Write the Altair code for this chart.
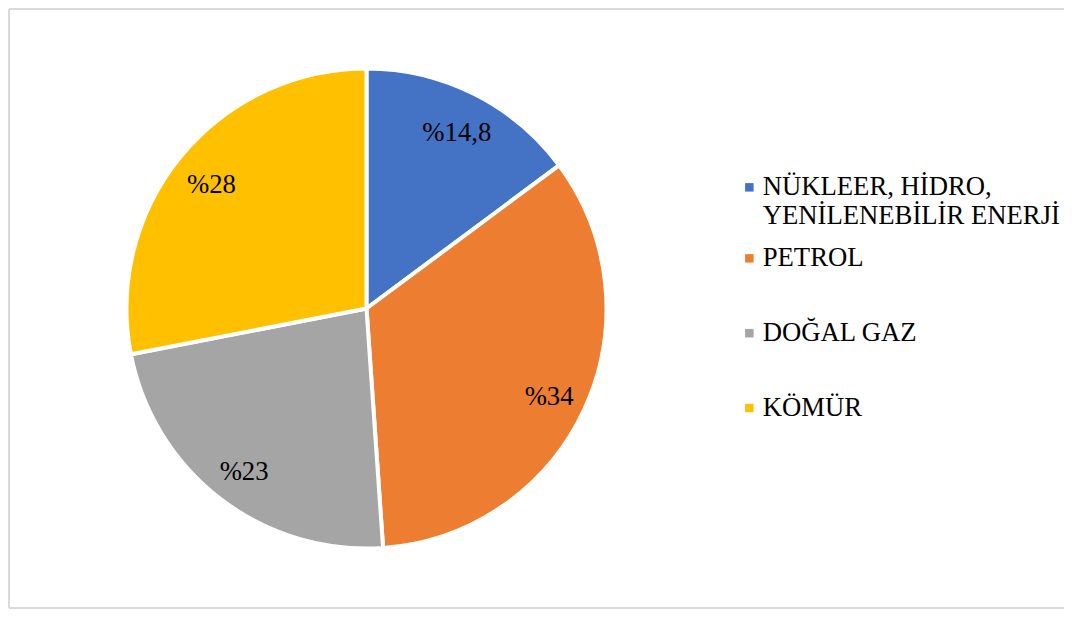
import altair as alt
import pandas as pd

categories = ["NÜKLEER, HİDRO,\nYENİLENEBİLİR ENERJİ", "PETROL", "DOĞAL GAZ", "KÖMÜR"]
values = [14.8, 34, 23, 28]
labels = ["%14,8", "%34", "%23", "%28"]
colors = ["#4472C4", "#ED7D31", "#A5A5A5", "#FFC000"]

df = pd.DataFrame({"cat": categories, "val": values, "lab": labels, "ord": list(range(len(values)))})

W, H = 1056, 601
CX, CY = 358.5, 300.5
R = 240
FS = 26.7
FONT = "Liberation Serif"
BORDER = "#d9d9d9"

base = alt.Chart(df).encode(
    theta=alt.Theta("val:Q", stack=True),
    order=alt.Order("ord:Q"),
)

scale = alt.Scale(domain=categories, range=colors)


def legend(vals, y, pad):
    return alt.Legend(
        title=None,
        orient="none",
        legendX=728,
        legendY=y,
        values=vals,
        symbolType="square",
        symbolSize=72,
        symbolStrokeWidth=0,
        labelFont=FONT,
        labelFontSize=FS,
        labelColor="#000000",
        labelLimit=500,
        labelExpr="split(datum.label, '\\n')",
        rowPadding=pad,
        labelOffset=0,
    )


pie = base.mark_arc(radius=R, stroke="white", strokeWidth=4).encode(
    color=alt.Color("cat:N", scale=scale, sort=categories,
                    legend=legend(categories[:1], 166, 10)),
    x=alt.value(CX),
    y=alt.value(CY),
)

ghost = base.mark_arc(radius=R, opacity=0).encode(
    color=alt.Color("cat:N", scale=scale, sort=categories,
                    legend=legend(categories[1:], 237, 75 - FS - 1.5)),
    x=alt.value(CX),
    y=alt.value(CY),
)

text = base.mark_text(
    radius=201, font=FONT, fontSize=FS, color="#000000", dy=4
).encode(
    text="lab:N",
    x=alt.value(CX),
    y=alt.value(CY),
)

frame_left = alt.Chart(df).mark_rule(stroke=BORDER, strokeWidth=2).encode(
    x=alt.value(1), y=alt.value(1), y2=alt.value(H - 1)
)
frame_top = alt.Chart(df).mark_rule(stroke=BORDER, strokeWidth=2).encode(
    x=alt.value(1), x2=alt.value(W), y=alt.value(1)
)
frame_bottom = alt.Chart(df).mark_rule(stroke=BORDER, strokeWidth=2).encode(
    x=alt.value(1), x2=alt.value(W), y=alt.value(H - 1)
)

chart = alt.layer(frame_left, frame_top, frame_bottom, ghost, pie, text).resolve_scale(
    color="independent"
).properties(
    width=W, height=H, autosize=alt.AutoSizeParams(type="none"), padding=0
).configure_view(stroke=None)

chart.save("out.html", embed_options={"renderer": "svg", "actions": False})
